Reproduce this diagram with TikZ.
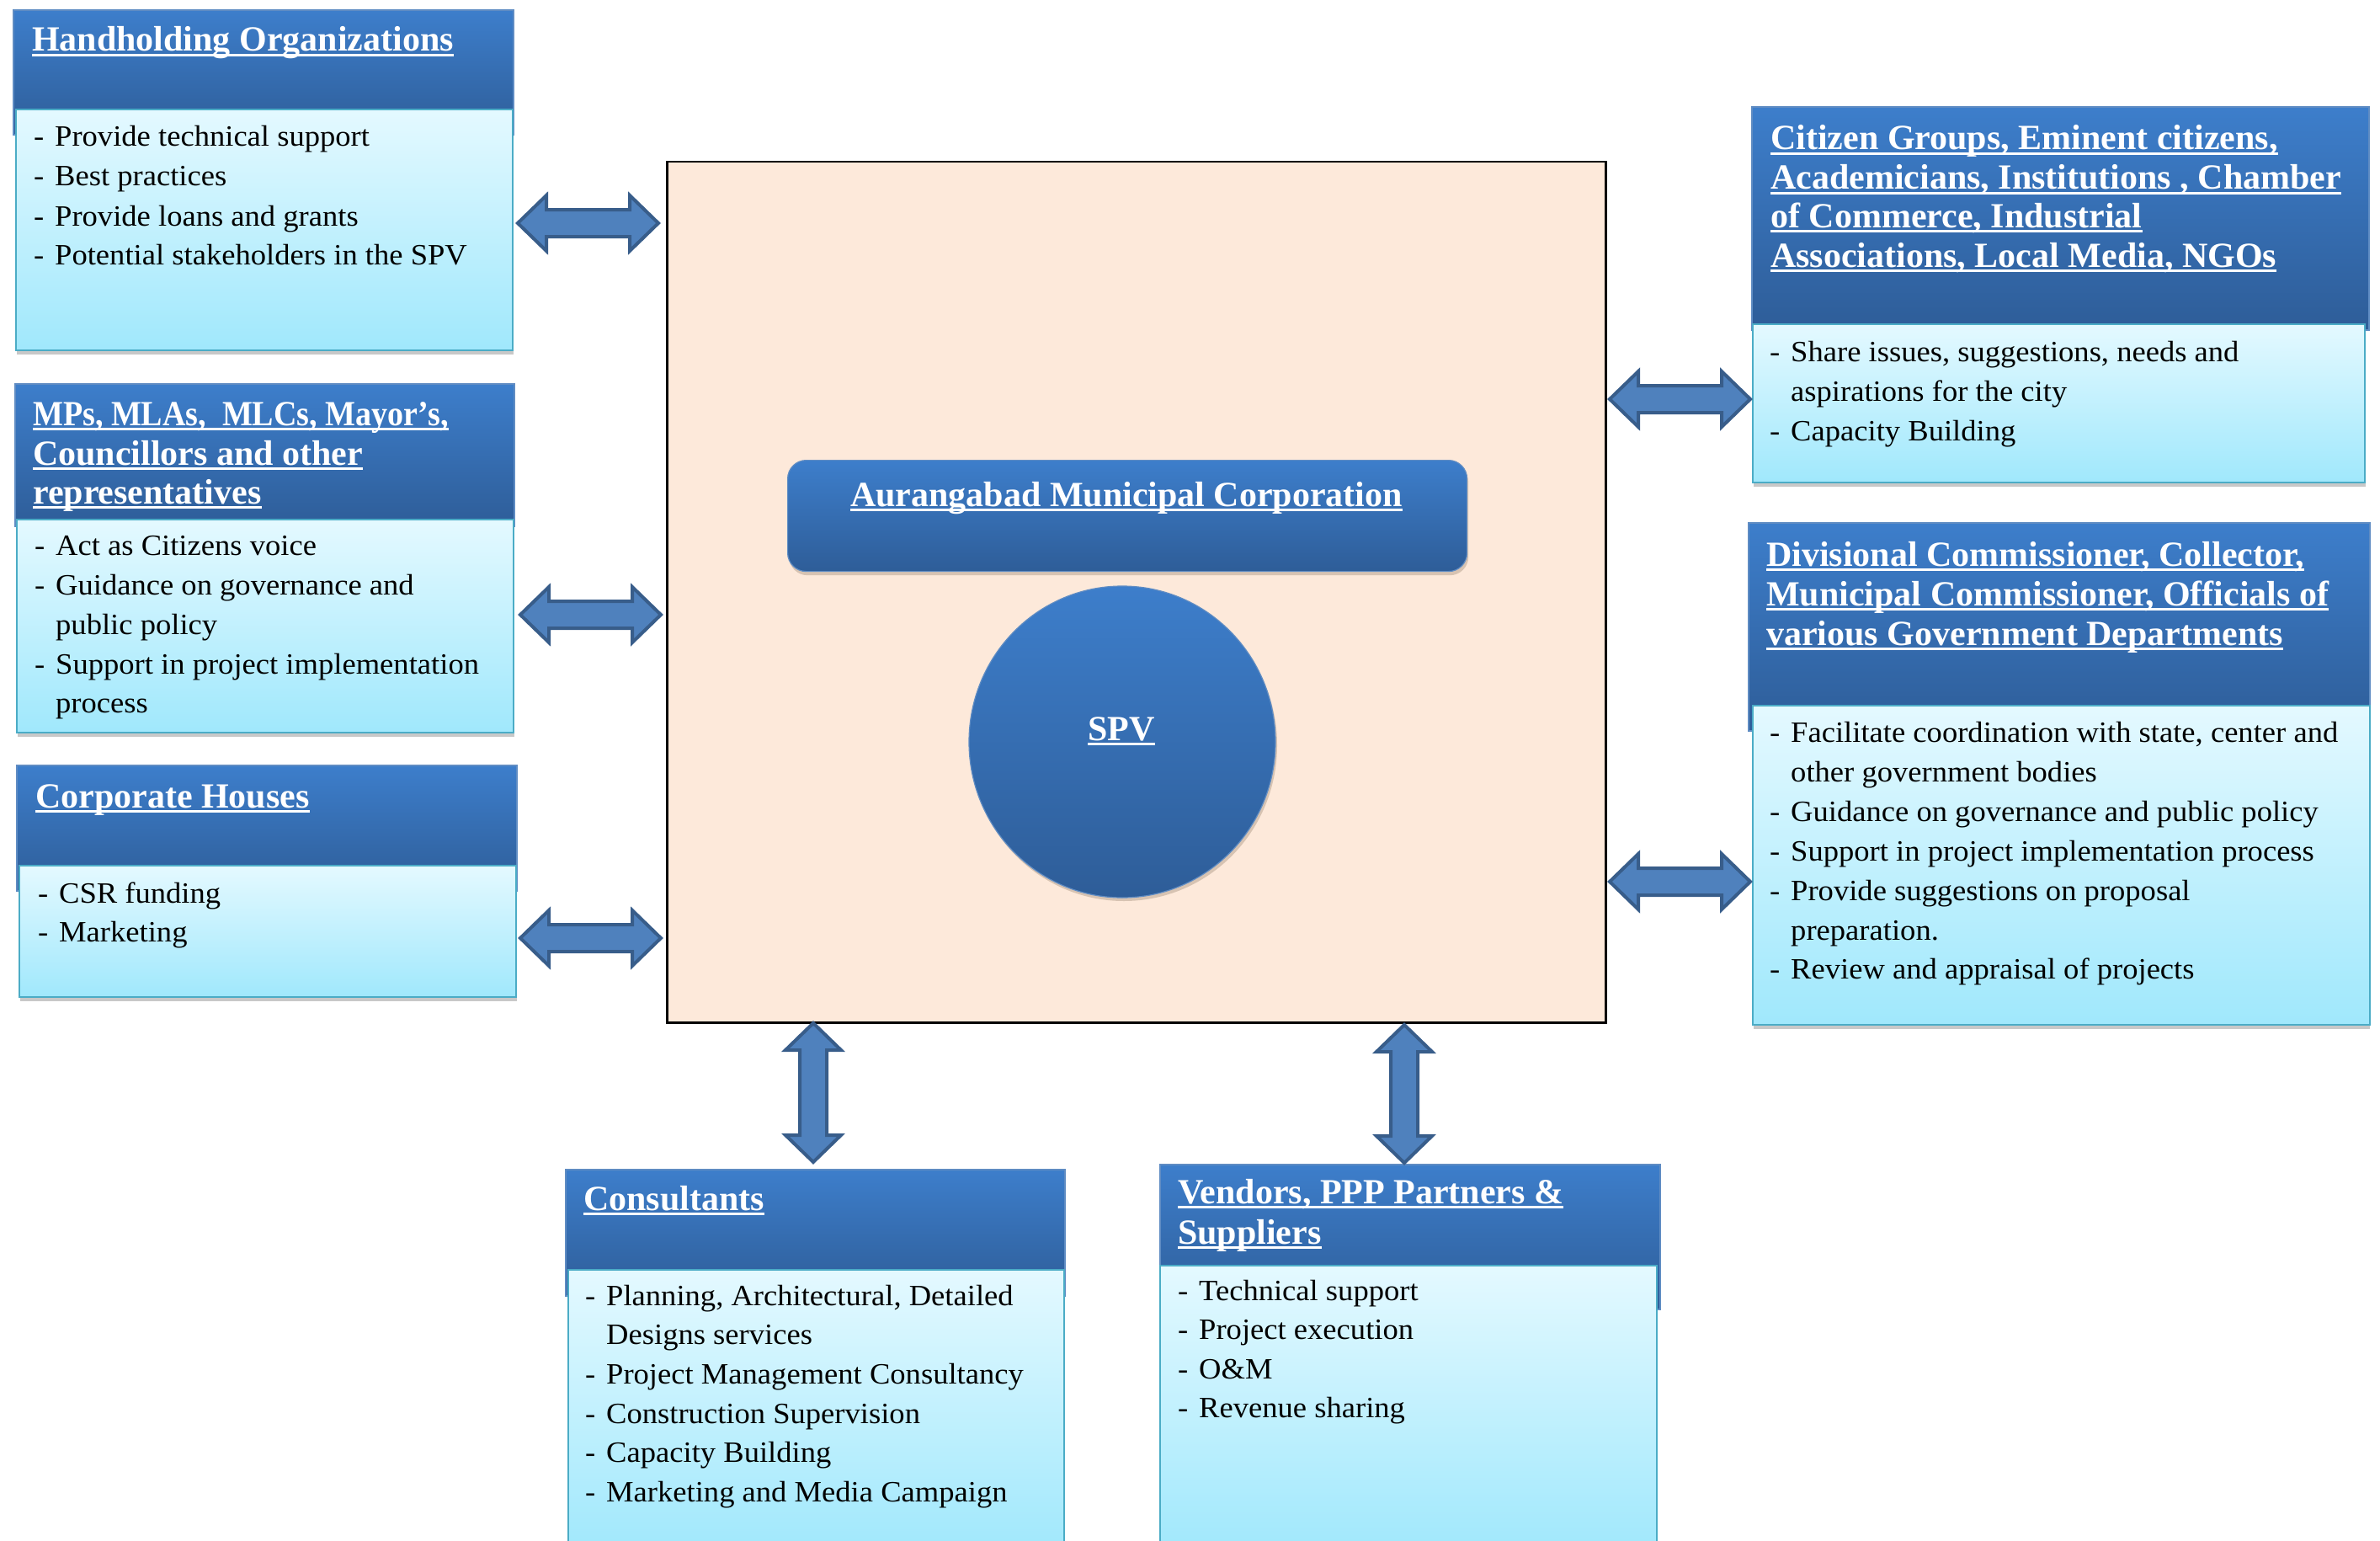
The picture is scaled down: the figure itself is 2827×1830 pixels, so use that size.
\documentclass[tikz,border=0pt]{standalone}
\usepackage{fontspec}
\setmainfont{Liberation Serif}
\newfontfamily\bodyfont[FakeStretch=1.045]{Liberation Serif}
\usetikzlibrary{calc,shapes.geometric}
\definecolor{hdtop}{RGB}{61,126,203}
\definecolor{hdbot}{RGB}{46,93,152}
\definecolor{bdtop}{RGB}{228,249,255}
\definecolor{bdbot}{RGB}{160,232,252}
\definecolor{bdline}{RGB}{75,172,198}
\definecolor{hdline}{RGB}{95,140,195}
\definecolor{ctrfill}{RGB}{253,233,218}
\definecolor{arrfill}{RGB}{79,129,189}
\definecolor{arrline}{RGB}{56,93,138}
\definecolor{shad}{RGB}{200,200,200}
\definecolor{tanshad}{RGB}{215,195,178}
\newcommand\ulx[1]{\setbox0\hbox{#1}\rlap{\rule[-6pt]{\wd0}{3pt}}\box0}
\newcommand\dsh{\llap{-\hskip13pt}}
\newcommand\boxnode[6]{%
  \pgfmathsetmacro\bw{#4-#2}\pgfmathsetmacro\bh{#5-#3}%
  \node[#6, minimum width=\bw pt, minimum height=\bh pt, anchor=north west] (#1) at (#2,#3) {};}
\newcommand\harrow[2]{\draw[dblarrow] (#1) -- ($(#1)+(34,-33)$) -- ($(#1)+(34,-16)$) -- ($(#2)+(-34,-16)$) -- ($(#2)+(-34,-33)$) -- (#2) -- ($(#2)+(-34,33)$) -- ($(#2)+(-34,16)$) -- ($(#1)+(34,16)$) -- ($(#1)+(34,33)$) -- cycle;}
\newcommand\varrow[2]{\draw[dblarrow] (#1) -- ($(#1)+(33,32)$) -- ($(#1)+(16,32)$) -- ($(#2)+(16,-32)$) -- ($(#2)+(33,-32)$) -- (#2) -- ($(#2)+(-33,-32)$) -- ($(#2)+(-16,-32)$) -- ($(#1)+(-16,32)$) -- ($(#1)+(-33,32)$) -- cycle;}
\begin{document}
\begin{tikzpicture}[x=1pt,y=-1pt,
  hdr/.style={rectangle, inner sep=0pt, outer sep=0pt, top color=hdtop, bottom color=hdbot, draw=hdline, line width=1.2pt},
  bdy/.style={rectangle, inner sep=0pt, outer sep=0pt, top color=bdtop, bottom color=bdbot, draw=bdline, line width=2.5pt},
  shd/.style={rectangle, inner sep=0pt, outer sep=0pt, fill=shad},
  ttl/.style={inner sep=0pt, anchor=base west, text=white, font=\fontsize{42}{47}\selectfont\bfseries},
  txt/.style={inner sep=0pt, anchor=base west, text=black, font=\bodyfont\fontsize{35}{47}\selectfont},
  dblarrow/.style={fill=arrfill, draw=arrline, line width=4pt, line join=miter}]
\useasboundingbox (0,0) rectangle (2827,1830);
\fill[white] (0,0) rectangle (2827,1830);

% ---------- centre ----------
\boxnode{ctr}{791}{191}{1906}{1213}{rectangle, inner sep=0pt, fill=ctrfill, draw=black, line width=2.5pt}
\node[rectangle, rounded corners=22pt, fill=tanshad, minimum width=807pt, minimum height=132pt, anchor=north west] (amcs) at (937,551) {};
\node[rectangle, rounded corners=22pt, top color=hdtop, bottom color=hdbot, draw=hdline, line width=1.2pt, minimum width=807pt, minimum height=132pt, anchor=north west] (amc) at (935,546) {};
\node[ttl, anchor=base] (amct) at (1338,601) {\ulx{Aurangabad Municipal Corporation}};
\node[ellipse, fill=tanshad, minimum width=364pt, minimum height=370pt, inner sep=0pt] (spvs) at (1335,885) {};
\node[ellipse, top color=hdtop, bottom color=hdbot, draw=hdline, line width=1.2pt, minimum width=364pt, minimum height=370pt, inner sep=0pt] (spv) at (1333,881) {};
\node[ttl, anchor=base] (spvt) at (1332,879) {\ulx{SPV}};

% ---------- Handholding ----------
\boxnode{hhs}{20}{135}{610}{421}{shd}
\boxnode{hhh}{16}{12}{610}{160}{hdr}
\boxnode{hhb}{19}{130}{609}{416}{bdy}
\node[ttl] (hht) at (38,61) {\ulx{Handholding Organizations}};
\foreach \y/\t [count=\k] in {174/{\dsh Provide technical support},221/{\dsh Best practices},268/{\dsh Provide loans and grants},314/{\dsh Potential stakeholders in the SPV}}
  \node[txt] (hhl\k) at (65,\y) {\t};

% ---------- MPs ----------
\boxnode{mps}{21}{622}{611}{875}{shd}
\boxnode{mph}{18}{456}{611}{625}{hdr}
\boxnode{mpb}{20}{617}{610}{870}{bdy}
\foreach \y/\t [count=\k] in {505/{\ulx{\scalebox{0.905}[1]{MPs, MLAs,\ \ MLCs, Mayor’s,}}},552/{\ulx{Councillors and other}},598/{\ulx{representatives}}}
  \node[ttl] (mpt\k) at (39,\y) {\t};
\foreach \y/\t [count=\k] in {659/{\dsh Act as Citizens voice},706/{\dsh Guidance on governance and},753/{public policy},800/{\dsh Support in project implementation},846/{process}}
  \node[txt] (mpl\k) at (66,\y) {\t};

% ---------- Corporate ----------
\boxnode{cps}{24}{1033}{614}{1189}{shd}
\boxnode{cph}{20}{909}{614}{1058}{hdr}
\boxnode{cpb}{23}{1028}{613}{1184}{bdy}
\node[ttl] (cpt) at (42,959) {\ulx{Corporate Houses}};
\foreach \y/\t [count=\k] in {1072/{\dsh CSR funding},1118/{\dsh Marketing}}
  \node[txt] (cpl\k) at (70,\y) {\t};

% ---------- Citizen groups ----------
\boxnode{cgs}{2083}{390}{2810}{578}{shd}
\boxnode{cgh}{2081}{127}{2814}{392}{hdr}
\boxnode{cgb}{2082}{385}{2809}{573}{bdy}
\foreach \y/\t [count=\k] in {178/{\ulx{Citizen Groups, Eminent citizens,}},225/{\ulx{Academicians, Institutions , Chamber}},270/{\ulx{of Commerce, Industrial}},317/{\ulx{Associations, Local Media, NGOs}}}
  \node[ttl] (cgt\k) at (2103,\y) {\t};
\foreach \y/\t [count=\k] in {429/{\dsh Share issues, suggestions, needs and},476/{aspirations for the city},523/{\dsh Capacity Building}}
  \node[txt] (cgl\k) at (2127,\y) {\t};

% ---------- Divisional ----------
\boxnode{dvs}{2083}{843}{2815}{1222}{shd}
\boxnode{dvh}{2077}{621}{2815}{868}{hdr}
\boxnode{dvb}{2082}{838}{2815}{1217}{bdy}
\foreach \y/\t [count=\k] in {672/{\ulx{Divisional Commissioner, Collector,}},719/{\ulx{Municipal Commissioner, Officials of}},766/{\ulx{various Government Departments}}}
  \node[ttl] (dvt\k) at (2098,\y) {\t};
\foreach \y/\t [count=\k] in {881/{\dsh Facilitate coordination with state, center and},928/{other government bodies},975/{\dsh Guidance on governance and public policy},1022/{\dsh Support in project implementation process},1069/{\dsh Provide suggestions on proposal},1116/{preparation.},1162/{\dsh Review and appraisal of projects}}
  \node[txt] (dvl\k) at (2127,\y) {\t};

% ---------- Consultants ----------
\boxnode{csh}{672}{1389}{1265}{1539}{hdr}
\boxnode{csb}{675}{1508}{1264}{1845}{bdy}
\node[ttl] (cst) at (693,1437) {\ulx{Consultants}};
\foreach \y/\t [count=\k] in {1550/{\dsh Planning, Architectural, Detailed},1596/{Designs services},1643/{\dsh Project Management Consultancy},1690/{\dsh Construction Supervision},1736/{\dsh Capacity Building},1783/{\dsh Marketing and Media Campaign}}
  \node[txt] (csl\k) at (720,\y) {\t};

% ---------- Vendors ----------
\boxnode{vnh}{1378}{1383}{1972}{1555}{hdr}
\boxnode{vnb}{1378}{1503}{1968}{1845}{bdy}
\foreach \y/\t [count=\k] in {1429/{\ulx{Vendors, PPP Partners \&}},1477/{\ulx{Suppliers}}}
  \node[ttl] (vnt\k) at (1399,\y) {\t};
\foreach \y/\t [count=\k] in {1544/{\dsh Technical support},1590/{\dsh Project execution},1637/{\dsh O\&M},1683/{\dsh Revenue sharing}}
  \node[txt] (vnl\k) at (1424,\y) {\t};

% ---------- arrows ----------
\coordinate (a1l) at (615,265);  \coordinate (a1r) at (782,265);
\coordinate (a2l) at (618,730);  \coordinate (a2r) at (785,730);
\coordinate (a3l) at (618,1114); \coordinate (a3r) at (785,1114);
\coordinate (a4l) at (1912,474); \coordinate (a4r) at (2079,474);
\coordinate (a5l) at (1912,1047);\coordinate (a5r) at (2079,1047);
\coordinate (a6t) at (966,1215); \coordinate (a6b) at (966,1380);
\coordinate (a7t) at (1668,1217);\coordinate (a7b) at (1668,1381);
\harrow{a1l}{a1r}
\harrow{a2l}{a2r}
\harrow{a3l}{a3r}
\harrow{a4l}{a4r}
\harrow{a5l}{a5r}
\varrow{a6t}{a6b}
\varrow{a7t}{a7b}
\end{tikzpicture}
\end{document}
